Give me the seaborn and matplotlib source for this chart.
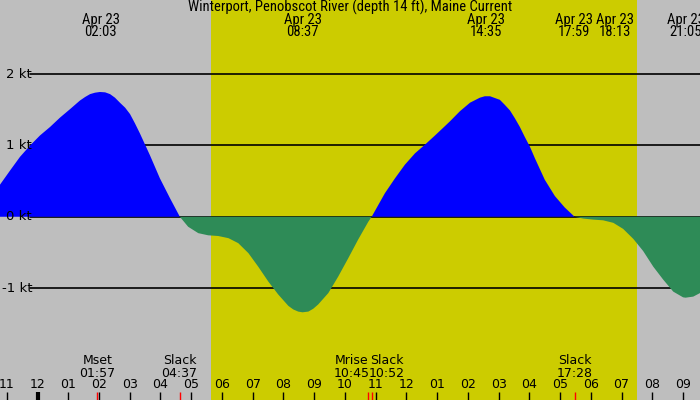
import numpy as np
import matplotlib
matplotlib.use("Agg")
import matplotlib.pyplot as plt
import seaborn as sns

# current speed (kt), hours from midnight Apr 23
hours = [-1.22, -0.89, -0.57, -0.24, 0.08, 0.41, 0.73, 1.06, 1.38, 1.55,
         1.71, 1.87, 2.03, 2.20, 2.36, 2.52, 2.68, 2.85, 3.01, 3.17,
         3.33, 3.66, 3.98, 4.31, 4.63, 4.90, 5.23, 5.55, 5.88, 6.21,
         6.53, 6.86, 7.18, 7.51, 7.83, 8.16, 8.32, 8.48, 8.62, 8.81,
         8.97, 9.13, 9.46, 9.78, 10.11, 10.43, 10.76, 10.87, 11.30, 11.63,
         11.95, 12.28, 12.60, 12.93, 13.25, 13.42, 13.74, 14.07, 14.39, 14.55,
         14.72, 15.04, 15.20, 15.37, 15.53, 15.69, 15.85, 16.02, 16.18, 16.50,
         16.83, 17.15, 17.47, 17.75, 18.08, 18.40, 18.73, 19.05, 19.38, 19.70,
         20.03, 20.35, 20.68, 21.00, 21.08, 21.33, 21.55]
speed = [0.45, 0.65, 0.84, 1.00, 1.14, 1.26, 1.39, 1.51, 1.63, 1.68,
         1.72, 1.74, 1.75, 1.745, 1.72, 1.67, 1.60, 1.53, 1.44, 1.31,
         1.17, 0.86, 0.54, 0.26, 0.00, -0.14, -0.23, -0.26, -0.27, -0.30,
         -0.37, -0.51, -0.70, -0.91, -1.09, -1.25, -1.30, -1.33, -1.34, -1.33,
         -1.29, -1.23, -1.07, -0.84, -0.58, -0.32, -0.07, 0.00, 0.33, 0.54,
         0.73, 0.89, 1.01, 1.14, 1.27, 1.34, 1.48, 1.60, 1.67, 1.69,
         1.69, 1.64, 1.57, 1.49, 1.38, 1.26, 1.12, 0.98, 0.82, 0.52,
         0.29, 0.13, 0.00, -0.025, -0.04, -0.05, -0.085, -0.17, -0.31, -0.48,
         -0.70, -0.88, -1.05, -1.13, -1.135, -1.12, -1.07]

sunrise, sunset = 5.64, 19.49
kt_levels = [2, 1, 0, -1]

# top labels: extrema (time label, hour, label shift in px)
top_labels = ["02:03", "08:37", "14:35", "17:59", "18:13", "21:05"]
top_hours = [2.05, 8.62, 14.58, 17.98, 18.22, 21.08]
top_shift = [0, 0, 0, -16, 17, 0]

# bottom labels: slack / moon events
bot_names = ["Mset", "Slack", "Mrise", "Slack", "Slack"]
bot_labels = ["01:57", "04:37", "10:45", "10:52", "17:28"]
bot_hours = [1.95, 4.62, 10.75, 10.87, 17.47]
bot_shift = [0, 0, -16, 15, 0]

tick_hours = list(range(-1, 22))

W, H = 700, 400
x_lo, x_hi = -1.22, 21.55
y_lo, y_hi = -2.57, 3.04

sns.set_theme(style="white")
plt.rcParams['font.family'] = ['DejaVu Sans']
narrow = ['Roboto Condensed', 'DejaVu Sans']

fig = plt.figure(figsize=(7, 4), dpi=100)
ax = fig.add_axes([0, 0, 1, 1])
ax.set_xlim(x_lo, x_hi)
ax.set_ylim(y_lo, y_hi)
ax.axis('off')
fig.patch.set_facecolor('#BEBEBE')
ax.axvspan(sunrise, sunset, color='#CCCC00', zorder=0.5, lw=0)


def yfrac(py):
    return 1 - py / H


tx = ax.get_xaxis_transform()
ty = ax.get_yaxis_transform()

# kt grid lines
for v in kt_levels:
    ax.axhline(v, xmin=30 / W, xmax=1, color='black', lw=1.2, zorder=1)
    ax.text(6 / W if v >= 0 else 2 / W, v, f"{v} kt", transform=ty,
            ha='left', va='center', fontsize=9.5, color='black', zorder=5)

# current curve
x = np.array(hours)
y = np.array(speed)
ax.fill_between(x, 0, y, where=y >= 0, interpolate=True, color='#0000FF',
                lw=0, zorder=2)
ax.fill_between(x, 0, y, where=y <= 0, interpolate=True, color='#2E8B57',
                lw=0, zorder=2)
sns.lineplot(x=x, y=np.zeros_like(x), ax=ax, color='black', lw=0, zorder=1)

# title and top labels
ax.text(0.5, yfrac(7), "Winterport, Penobscot River (depth 14 ft), Maine Current",
        transform=ax.transAxes, ha='center', va='center', fontsize=10.5,
        family=narrow, color='black')
for lab, h, s in zip(top_labels, top_hours, top_shift):
    ax.annotate(f"Apr 23\n{lab}", xy=(h, yfrac(26)), xycoords=tx,
                xytext=(s * 0.72, 0), textcoords='offset points',
                ha='center', va='center', fontsize=10.5, family=narrow,
                linespacing=0.82, color='black')

# hour ticks and labels
for h in tick_hours:
    lw = 3 if h == 0 else 1
    ax.plot([h, h], [yfrac(392), 0], transform=tx, color='black', lw=lw,
            solid_capstyle='butt', zorder=3)
    ax.text(h, yfrac(385), f"{(h % 12) or 12:02d}", transform=tx,
            ha='center', va='center', fontsize=9, color='black')

# event ticks and bottom labels
for name, lab, h, s in zip(bot_names, bot_labels, bot_hours, bot_shift):
    ax.plot([h, h], [yfrac(392), 0], transform=tx, color='red', lw=1,
            solid_capstyle='butt', zorder=4)
    ax.annotate(f"{name}\n{lab}", xy=(h, yfrac(367)), xycoords=tx,
                xytext=(s * 0.72, 0), textcoords='offset points',
                ha='center', va='center', fontsize=9, linespacing=1.0,
                color='black')

fig.savefig("out.png", dpi=100, facecolor=fig.get_facecolor())
